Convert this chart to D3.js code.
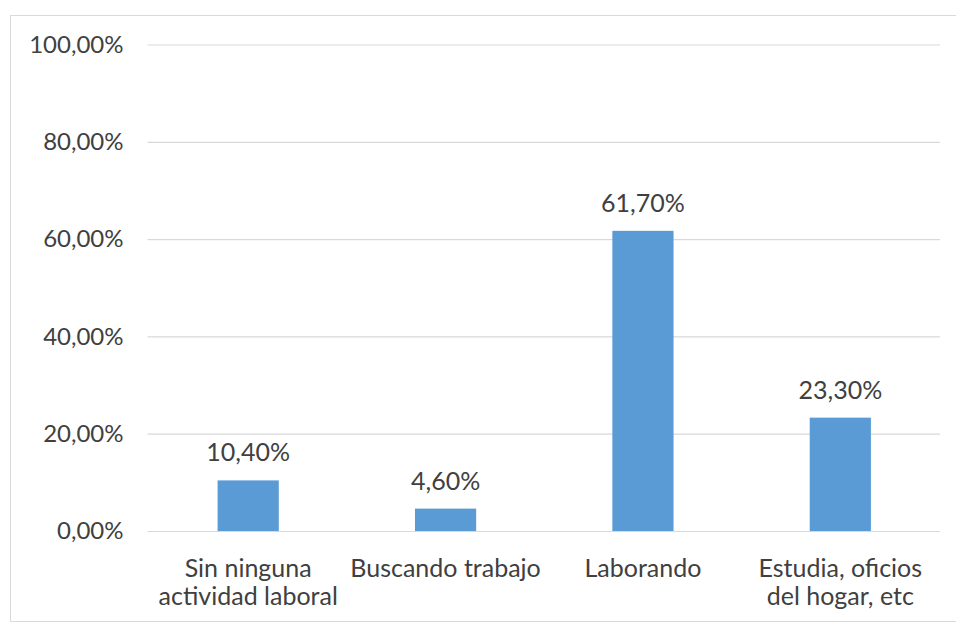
<!DOCTYPE html>
<html>
<head>
<meta charset="utf-8">
<script src="https://cdn.jsdelivr.net/npm/d3@7"></script>
<style>
  html, body { margin: 0; padding: 0; background: #ffffff; }
  svg { display: block; }
  text { font-family: Lato, "Open Sans", sans-serif; fill: #404040; }
</style>
</head>
<body>
<svg id="chart" width="956" height="626"></svg>
<script>
// Situación laboral: share of respondents per category
const categories = [
  ["Sin ninguna", "actividad laboral"],
  ["Buscando trabajo"],
  ["Laborando"],
  ["Estudia, oficios", "del hogar, etc"]
];
const values = [10.4, 4.6, 61.7, 23.3];
const yTicks = [0, 20, 40, 60, 80, 100];

const fmt = v => v.toFixed(2).replace(".", ",") + "%";

const svg = d3.select("#chart");
const W = 956, H = 626;

// chart frame
svg.append("rect")
  .attr("x", 10.5).attr("y", 15.5)
  .attr("width", W).attr("height", 606)
  .attr("fill", "#ffffff")
  .attr("stroke", "#d9d9d9").attr("stroke-width", 1);

const plot = { left: 149.5, right: 939, top: 44.5, bottom: 531 };

const x = d3.scaleBand()
  .domain(d3.range(categories.length))
  .range([plot.left, plot.right])
  .paddingInner(0.69)
  .paddingOuter(0.345);

const y = d3.scaleLinear()
  .domain([0, 100])
  .range([plot.bottom, plot.top]);

// gridlines + tick labels via axis
const yAxis = d3.axisLeft(y)
  .tickValues(yTicks)
  .tickSize(-(plot.right - plot.left + 3))
  .tickPadding(24)
  .tickFormat(d => fmt(d));

const gy = svg.append("g")
  .attr("transform", `translate(${plot.left - 2},0)`)
  .call(yAxis);
gy.select(".domain").remove();
gy.selectAll(".tick line")
  .attr("stroke", "#d9d9d9").attr("stroke-width", 1.2);
gy.selectAll(".tick text")
  .attr("font-size", 24)
  .attr("fill", "#404040")
  .attr("font-family", "Lato, 'Open Sans', sans-serif")
  .attr("dy", "0.32em");

// bars
svg.append("g").selectAll("rect")
  .data(values)
  .join("rect")
  .attr("x", (d, i) => x(i))
  .attr("y", d => y(d))
  .attr("width", x.bandwidth())
  .attr("height", d => y(0) - y(d))
  .attr("fill", "#5b9bd5");

// value labels
svg.append("g").selectAll("text")
  .data(values)
  .join("text")
  .attr("x", (d, i) => x(i) + x.bandwidth() / 2)
  .attr("y", d => y(d) - 19)
  .attr("text-anchor", "middle")
  .attr("font-size", 25)
  .text(d => fmt(d));

// category labels (multi-line)
const cat = svg.append("g").selectAll("text")
  .data(categories)
  .join("text")
  .attr("x", (d, i) => x(i) + x.bandwidth() / 2)
  .attr("y", 577)
  .attr("text-anchor", "middle")
  .attr("font-size", 25);
cat.selectAll("tspan")
  .data(d => d)
  .join("tspan")
  .attr("x", function () { return d3.select(this.parentNode).attr("x"); })
  .attr("dy", (d, i) => i === 0 ? 0 : 28)
  .text(d => d);
</script>
</body>
</html>
